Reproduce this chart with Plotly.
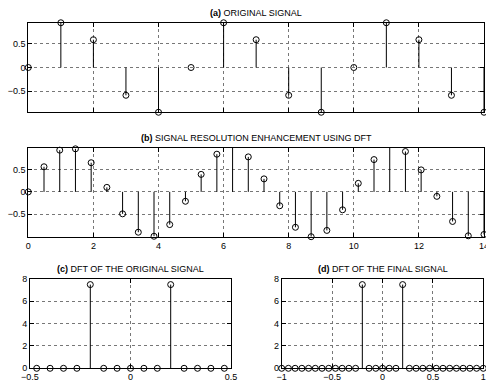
import numpy as np
import plotly.graph_objects as go

# ---------------- data ----------------
orig_n = list(range(15))
orig_vals = [0, 0.95, 0.59, -0.59, -0.95, 0, 0.95, 0.59, -0.59, -0.95,
             0, 0.95, 0.59, -0.59, -0.95]

final_t = list(np.linspace(0, 14, 30))
final_vals = [0, 0.56, 0.93, 0.96, 0.65, 0.10, -0.49, -0.90, -0.99, -0.73,
              -0.21, 0.39, 0.84, 0.99, 0.78, 0.29, -0.31, -0.79, -1.0, -0.86,
              -0.40, 0.19, 0.72, 0.99, 0.90, 0.49, -0.10, -0.66, -0.98, -0.95]

dft_orig_f = [(k - 7) / 15 for k in range(15)]
dft_orig_mag = [0, 0, 0, 0, 7.5, 0, 0, 0, 0, 0, 7.5, 0, 0, 0, 0]

dft_final_f = [(k - 15) / 15 for k in range(31)]
dft_final_mag = [0] * 12 + [7.5] + [0] * 5 + [7.5] + [0] * 12

titles = ["ORIGINAL SIGNAL", "SIGNAL RESOLUTION ENHANCEMENT USING DFT",
          "DFT OF THE ORIGINAL SIGNAL", "DFT OF THE FINAL SIGNAL"]
tags = ["(a)", "(b)", "(c)", "(d)"]

FONT = "Liberation Sans, Arial, sans-serif"
W, H = 486, 381

fig = go.Figure()


def stems(x, y):
    xs, ys = [], []
    for a, b in zip(x, y):
        xs += [a, a, None]
        ys += [0, b, None]
    return xs, ys


def add_stem(x, y, ax):
    xs, ys = stems(x, y)
    xa = "x" if ax == 1 else f"x{ax}"
    ya = "y" if ax == 1 else f"y{ax}"
    fig.add_trace(go.Scatter(x=xs, y=ys, mode="lines", line=dict(color="black", width=1),
                             xaxis=xa, yaxis=ya, showlegend=False, hoverinfo="skip"))
    fig.add_trace(go.Scatter(x=x, y=y, mode="markers",
                             marker=dict(symbol="circle-open", size=6, color="black",
                                         line=dict(width=1, color="black")),
                             xaxis=xa, yaxis=ya, showlegend=False, cliponaxis=False,
                             hoverinfo="skip"))


add_stem(orig_n, orig_vals, 1)
add_stem(final_t, final_vals, 2)
add_stem(dft_orig_f, dft_orig_mag, 3)
add_stem(dft_final_f, dft_final_mag, 4)


def px_dom_x(a, b):
    return [a / W, b / W]


def px_dom_y(top, bottom):
    return [1 - bottom / H, 1 - top / H]


common = dict(showline=True, linecolor="black", linewidth=1, mirror="ticks",
              ticks="inside", ticklen=4, tickcolor="black", automargin=False,
              ticklabeloverflow="allow",
              showgrid=True, gridcolor="#777777", griddash="dot", gridwidth=1,
              zeroline=False, tickfont=dict(family=FONT, size=9, color="black"))

ax_specs = {
    1: dict(xd=px_dom_x(28.3, 484), yd=px_dom_y(22.7, 112.3),
            xr=[0, 14], yr=[-0.951, 0.951],
            xt=[0, 2, 4, 6, 8, 10, 12, 14], xl=[""] * 8,
            yt=[-0.5, 0, 0.5], yl=["\u22120.5", "0", "0.5"]),
    2: dict(xd=px_dom_x(28.3, 484), yd=px_dom_y(147.7, 236.7),
            xr=[0, 14], yr=[-1.0, 0.985],
            xt=[0, 2, 4, 6, 8, 10, 12, 14], xl=["0", "2", "4", "6", "8", "10", "12", "14"],
            yt=[-0.5, 0, 0.5], yl=["\u22120.5", "0", "0.5"]),
    3: dict(xd=px_dom_x(30, 231), yd=px_dom_y(279, 368.3),
            xr=[-0.5, 0.5], yr=[0, 8],
            xt=[-0.5, 0, 0.5], xl=["\u22120.5", "0", "0.5"],
            yt=[0, 2, 4, 6, 8], yl=["0", "2", "4", "6", "8"]),
    4: dict(xd=px_dom_x(281.7, 483.3), yd=px_dom_y(279, 368.3),
            xr=[-1, 1], yr=[0, 8],
            xt=[-1, -0.5, 0, 0.5, 1], xl=["\u22121", "\u22120.5", "0", "0.5", "1"],
            yt=[0, 2, 4, 6, 8], yl=["0", "2", "4", "6", "8"]),
}

layout = {}
annotations = []
for i, s in ax_specs.items():
    xk = "xaxis" if i == 1 else f"xaxis{i}"
    yk = "yaxis" if i == 1 else f"yaxis{i}"
    xa = "x" if i == 1 else f"x{i}"
    ya = "y" if i == 1 else f"y{i}"
    layout[xk] = dict(common, domain=s["xd"], range=s["xr"], anchor=ya,
                      tickmode="array", tickvals=s["xt"], ticktext=s["xl"])
    layout[yk] = dict(common, domain=s["yd"], range=s["yr"], anchor=xa,
                      tickmode="array", tickvals=s["yt"], ticktext=s["yl"])
    annotations.append(dict(
        text=f"<b>{tags[i-1]}</b> {titles[i-1]}",
        x=(s["xd"][0] + s["xd"][1]) / 2, y=s["yd"][1],
        xref="paper", yref="paper", xanchor="center", yanchor="bottom",
        yshift=3, showarrow=False,
        font=dict(family=FONT, size=9, color="black")))

fig.update_layout(
    template="none",
    width=W, height=H,
    margin=dict(l=0, r=0, t=0, b=0, pad=0),
    paper_bgcolor="white", plot_bgcolor="white",
    hovermode=False,
    annotations=annotations,
    **layout,
)

fig.write_html("out.html", config={"displayModeBar": False, "staticPlot": True},
               post_script="document.body.style.margin='0';document.body.style.overflow='hidden';")
